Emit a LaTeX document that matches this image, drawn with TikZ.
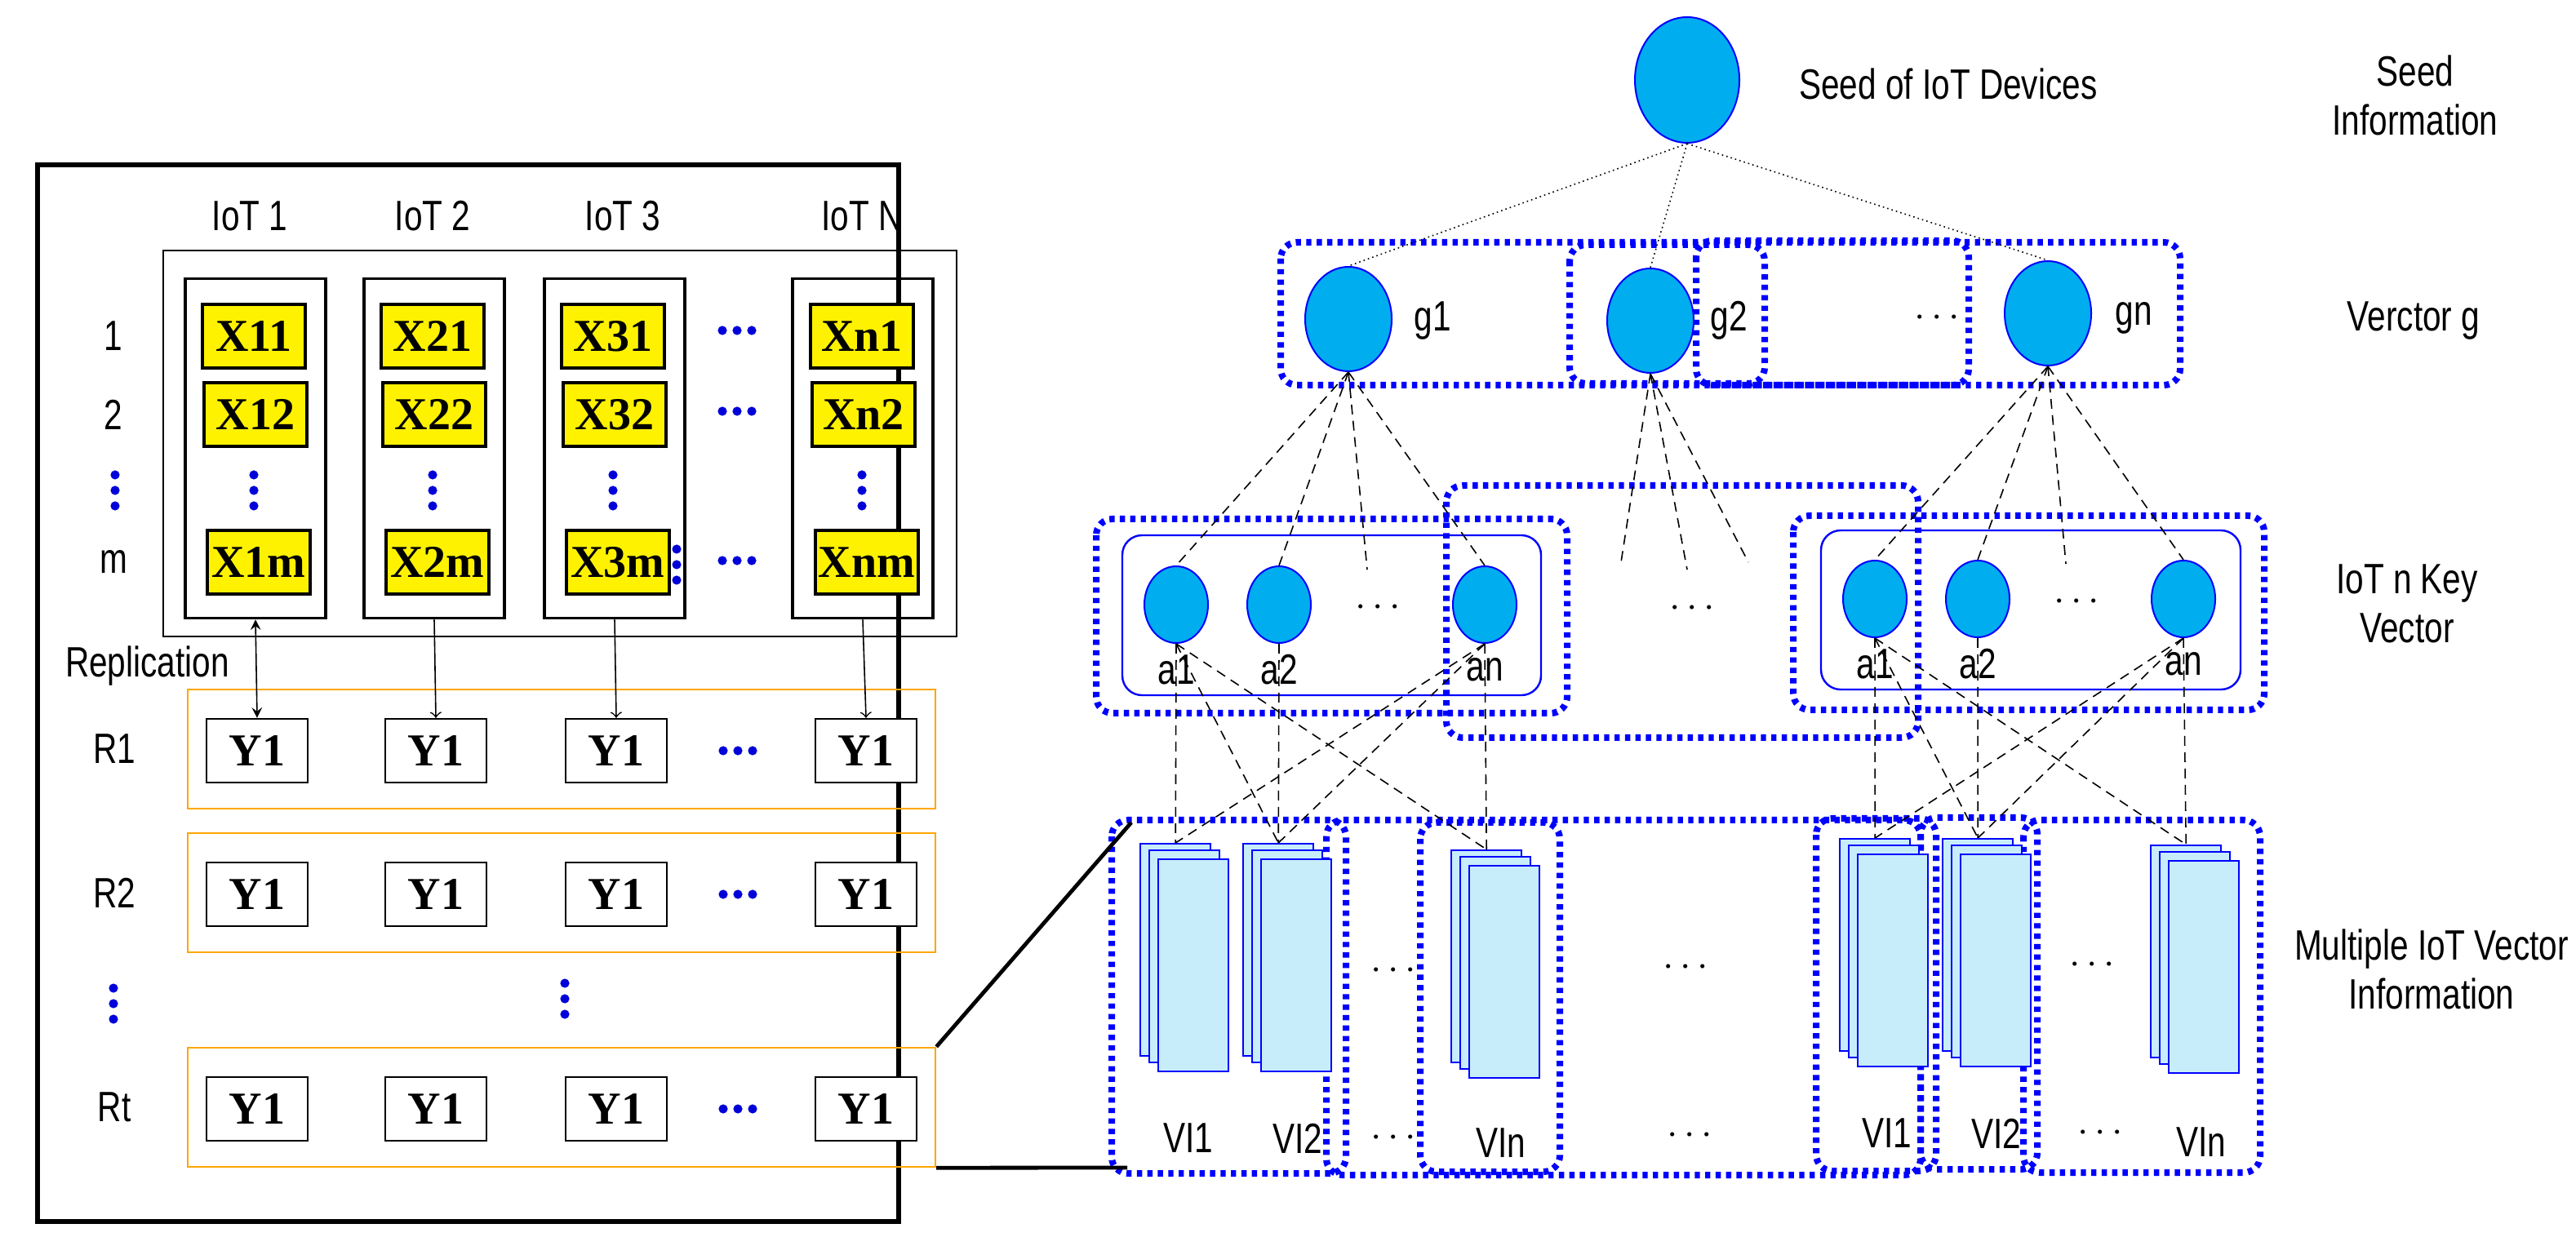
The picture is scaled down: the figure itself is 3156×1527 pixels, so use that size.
\documentclass[tikz,border=0pt]{standalone}
\usepackage{fontspec}
\setmainfont{Liberation Sans}[FakeStretch=0.78]
\newfontfamily\xfont{Liberation Serif}
\usetikzlibrary{arrows,positioning,shapes.geometric}

\newcommand{\hdots}[2]{\foreach \d in {-18,0,18} \fill[blue!85!black] (#1+\d,#2) circle (1.4pt);}
\newcommand{\vdotsb}[2]{\foreach \d in {-19,0,19} \fill[blue!85!black] (#1,#2+\d) circle (1.4pt);}

\begin{document}
\begin{tikzpicture}[x=0.25pt,y=-0.25pt,
	lbl/.style={font=\fontsize{13}{15}\selectfont},
	xbox/.style={draw,fill=yellow,line width=0.8pt,minimum width=31.5pt,minimum height=19.5pt,inner sep=0pt,font=\xfont\bfseries\fontsize{14}{16}\selectfont},
	ybox/.style={draw,fill=white,line width=0.6pt,minimum width=31pt,minimum height=19.5pt,inner sep=0pt,font=\xfont\bfseries\fontsize{14}{16}\selectfont},
	colbox/.style={draw,line width=0.9pt,minimum width=43pt,minimum height=104pt,inner sep=0pt},
	repbox/.style={draw=orange!70!yellow,line width=0.6pt,minimum width=229pt,minimum height=36.5pt,inner sep=0pt},
	key/.style={draw=blue,fill=cyan,ellipse,line width=0.5pt,minimum width=19.5pt,minimum height=23.5pt,inner sep=0pt},
	gnode/.style={key,minimum width=26.5pt,minimum height=32pt},
	vec/.style={draw=blue,fill=cyan!22,line width=0.6pt,minimum width=21.5pt,minimum height=65pt,inner sep=0pt,anchor=north west},
	grp/.style={draw=blue,line width=2pt,dash pattern=on 1.6pt off 1.6pt,rounded corners=5pt},
	key box/.style={draw=blue,line width=0.6pt,rounded corners=6pt},
	link/.style={densely dashed,line width=0.4pt}]
\useasboundingbox (0,0) rectangle (3156,1527);

% left part: replication of IoT columns
\draw[line width=1.5pt] (46,202) rectangle (1101,1497);
\draw[line width=0.6pt] (200,307) rectangle (1172,780);
\foreach \n/\t/\x in {1/IoT 1/306,2/IoT 2/530,3/IoT 3/763,4/IoT N/1056}
	\node[lbl] (iot\n) at (\x,265) {\t};
\foreach \n/\x in {1/313,2/532,3/753,4/1057}
	\node[colbox] (col\n) at (\x,549.5) {};
\foreach \n/\c/\x in {1/1/311,2/2/530,3/3/751,4/n/1056}{
	\node[xbox] (x\n a) at (\x,412) {X\c1};
	\node[xbox] (x\n b) at (\x+2,508) {X\c2};
	\node[xbox] (x\n m) at (\x+6,689) {X\c m};
	\vdotsb{\x}{601}
}
\foreach \y/\t in {412/1,508/2,689/m} \node[lbl] at (139,\y) {\t};
\vdotsb{141}{601}
\hdots{903}{405} \hdots{903}{504} \hdots{903}{687}
\vdotsb{829}{692}
\node[lbl,anchor=west] (repl) at (66,816) {Replication};

\foreach \r/\t/\y in {1/R1/918,2/R2/1094,3/Rt/1357}{
	\node[repbox] (rep\r) at (688,\y) {};
	\node[lbl] at (140,\y) {\t};
	\foreach \n/\x in {1/315,2/534,3/755,4/1061}
		\node[ybox] (y\r\n) at (\x,\y+2) {Y1};
	\hdots{904}{\y+2}
}
\vdotsb{139}{1230} \vdotsb{692}{1224}
\draw[<->,>=stealth] (col1.south) -- (y11.north);
\foreach \n in {2,3,4} \draw[->] (col\n.south) -- (y1\n.north);

% right part: seed, vector g, key vectors
\node[gnode,minimum width=32pt,minimum height=38.5pt] (seed) at (2067,98) {};
\node[lbl,anchor=west] at (2190,103) {Seed of IoT Devices};
\node[lbl,align=center] at (2959,117) {Seed\\Information};
\node[gnode] (g1) at (1652,391) {};
\node[gnode] (g2) at (2022,393) {};
\node[gnode] (gn) at (2509,384) {};
\node[lbl] at (1755,393) {g1};
\node[lbl] at (2118,393) {g2};
\node[lbl] at (2614,390) {gn};
\node[lbl] at (2373,390) {$\cdots$};
\node[lbl] at (2957,393) {Verctor g};
\draw[grp] (1569,297) rectangle (2671,472);
\draw[grp] (1923,300) rectangle (2162,470);
\draw[grp] (2078,295) rectangle (2412,472);
\foreach \g in {g1,g2,gn} \draw[link,densely dotted] (seed.south) -- (\g.north);

\draw[key box] (1375,656) rectangle (1888,852);
\draw[grp] (1343,636) rectangle (1920,874);
\draw[grp] (1772,595) rectangle (2350,904);
\draw[key box] (2231,650) rectangle (2745,845);
\draw[grp] (2197,632) rectangle (2774,870);
\foreach \s/\x/\y in {L/1441/741,R/2297/734}{
	\node[key] (a1\s) at (\x,\y) {};
	\node[key] (a2\s) at (\x+126,\y) {};
	\node[key] (an\s) at (\x+378,\y) {};
	\coordinate (ak\s) at (\x+234,\y-43);
	\node[lbl] at (\x+247,\y+4) {$\cdots$};
	\node[lbl] at (\x,\y+80) {a1};
	\node[lbl] at (\x+126,\y+80) {a2};
	\node[lbl] at (\x+378,\y+80) {an};
}
\node[lbl] at (2073,746) {$\cdots$};
\node[lbl,align=center] at (2949,740) {IoT n Key\\Vector};
\coordinate (m1) at (1986,689);
\coordinate (m2) at (2067,698);
\coordinate (m3) at (2142,689);
\foreach \t in {a1L,a2L,akL,anL} \draw[link] (g1.south) -- (\t.north);
\foreach \t in {m1,m2,m3} \draw[link] (g2.south) -- (\t);
\foreach \t in {a1R,a2R,akR,anR} \draw[link] (gn.south) -- (\t.north);

% bottom: multiple vector information
\draw[grp] (1362,1005) rectangle (1649,1438);
\draw[grp] (1625,1005) rectangle (2353,1440);
\draw[grp] (1740,1008) rectangle (1911,1436);
\draw[grp] (2225,1003) rectangle (2372,1435);
\draw[grp] (2353,1002) rectangle (2496,1433);
\draw[grp] (2479,1005) rectangle (2769,1437);
\foreach \v/\x/\y in {v1L/1396/1033,v2L/1522/1033,vnL/1777/1041,v1R/2253/1027,v2R/2379/1027,vnR/2634/1035}{
	\node[vec] (\v) at (\x,\y) {};
	\node[vec] at (\x+11,\y+8) {};
	\node[vec] at (\x+22,\y+19) {};
}
\foreach \s in {L,R}{
	\draw[link] (a1\s.south) -- (v1\s.north);
	\draw[link] (a1\s.south) -- (v2\s.north);
	\draw[link] (a1\s.south) -- (vn\s.north);
	\draw[link] (a2\s.south) -- (v2\s.north);
	\draw[link] (an\s.south) -- (v1\s.north);
	\draw[link] (an\s.south) -- (v2\s.north);
	\draw[link] (an\s.south) -- (vn\s.north);
}
\foreach \t/\x/\y in {VI1/1456/1395,VI2/1590/1395,VIn/1839/1401,VI1/2312/1389,VI2/2446/1389,VIn/2697/1400}
	\node[lbl] at (\x,\y) {\t};
\foreach \x/\y in {1707/1190,2065/1186,2563/1183,1707/1395,2070/1392,2573/1389}
	\node[lbl] at (\x,\y) {$\cdots$};
\node[lbl,align=center] at (2979,1188) {Multiple IoT Vector\\Information};

% zoom lines
\coordinate (zt) at (1386,1008);
\coordinate (zb) at (1381,1431);
\draw[line width=1.2pt] (rep3.north east) -- (zt);
\draw[line width=1.2pt] (rep3.south east) -- (zb);
\end{tikzpicture}
\end{document}
